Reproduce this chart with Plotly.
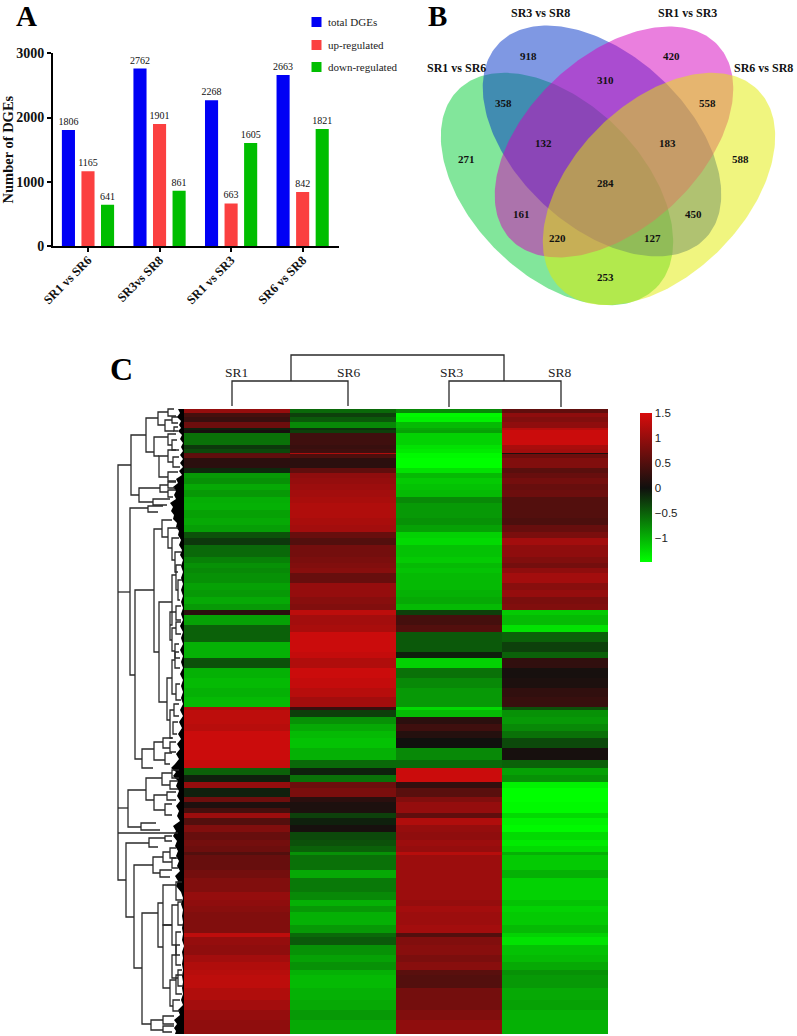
import math
import plotly.graph_objects as go

W, H = 797, 1036
SERIF = "Liberation Serif"

# ---------- Panel A ----------
comparisons = ["SR1 vs SR6", "SR3vs SR8", "SR1 vs SR3", "SR6 vs SR8"]
total_dges = [1806, 2762, 2268, 2663]
up_regulated = [1165, 1901, 663, 842]
down_regulated = [641, 861, 1605, 1821]
bar_colors = ["#0000F5", "#FB4040", "#00BE00"]
bar_names = ["total DGEs", "up-regulated", "down-regulated"]

# ---------- Panel B ----------
venn_sets = ["SR1 vs SR6", "SR3 vs SR8", "SR1 vs SR3", "SR6 vs SR8"]
venn_cx = [557, 602, 614, 659]
venn_cy = [189, 141, 142, 189]
venn_a = [140, 142, 142, 140]
venn_b = [86, 86, 86, 86]
venn_angle = [45, 43, -43, -45]
venn_fill = ["rgba(5,205,55,0.5)", "rgba(0,50,200,0.5)", "rgba(214,0,190,0.5)", "rgba(225,235,0,0.5)"]
venn_counts = [918, 420, 358, 310, 558, 271, 132, 183, 588, 284, 161, 450, 220, 127, 253]
venn_count_x = [528, 671, 503, 605, 707, 466, 543, 667, 740, 605, 521, 693, 557, 652, 605]
venn_count_y = [56, 56, 103, 80, 103, 159, 143, 143, 159, 183, 214, 214, 238, 238, 277]
venn_label_x = [456, 540, 687, 763]
venn_label_y = [68, 13, 13, 68]

# ---------- Panel C ----------
samples = ["SR1", "SR6", "SR3", "SR8"]
row_edges = [0, 4, 8, 13, 19, 21, 24, 36, 40, 44, 45, 49, 59, 64, 69, 75, 81, 88, 94, 101, 109, 116, 123, 129, 136,
             148, 154, 159, 164, 174, 181, 188, 195, 201, 206, 216, 223, 233, 243, 249, 259, 269, 279, 288, 298, 301,
             308, 315, 322, 329, 339, 351, 359, 366, 373, 379, 388, 393, 399, 404, 409, 416, 423, 431, 437, 443, 446,
             461, 469, 483, 491, 497, 503, 516, 524, 528, 536, 546, 553, 561, 566, 579, 591, 601, 611, 625]
sr1_values = [1.0, .4, .3, .7, -.1, .05, -.6, -.25, -.35, .55, .6, .2, -.15, -.85, -.8, -.95, -.85, -.98, -1.0,
              -.9, -.95, -.88, -.4, -.25, -.55, -.7, -.8, -.75, -.8, -.9, -.85, -.95, -.85, .2, -.9, -.5, -.5,
              -1.0, -1.0, -.4, -1.0, -1.05, -1.0, -1.05, 1.2, 1.3, 1.3, 1.25, 1.4, 1.4, 1.4, 1.35, -.5, -.1, 1.0,
              -.1, .7, .1, .4, 1.05, .5, .85, .65, .75, .7, .5, .65, .75, .85, 1.0, .95, .9, .85, .85, 1.3, 1.0,
              .95, 1.1, 1.2, 1.25, 1.3, 1.2, 1.1, 1.0, .95]
sr6_values = [-.55, -.3, -.45, -.75, -.2, -.3, .35, .3, .35, 1.2, .45, .2, .6, .95, 1.0, 1.05, 1.1, 1.15, 1.2,
              1.2, 1.15, 1.1, .65, .5, .75, .8, .85, .9, .65, 1.0, 1.0, .9, .85, 1.3, 1.1, 1.15, 1.4, 1.4, 1.35,
              1.2, 1.4, 1.35, 1.25, 1.1, .3, -.3, -.8, -.95, -1.05, -1.1, -1.0, -.55, -.1, -.6, .7, .8, .2, .1, .1,
              -.3, -.1, .05, -.35, -.4, -.5, -.8, -.6, -.95, -.65, -.75, -1.0, -.85, -1.0, -.85, -.55, -.45, -.8,
              -.9, -.8, -1.0, -1.05, -1.0, -.95, -.85, -.95]
sr3_values = [-.75, -1.45, -1.4, -1.05, -.95, -.9, -1.2, -1.3, -1.35, -1.45, -1.45, -1.48, -1.3, -1.05, -1.15,
              -1.1, -1.05, -.75, -.85, -.85, -.8, -.9, -1.2, -1.25, -1.1, -1.15, -1.05, -1.1, -1.05, -1.05, -1.0,
              -.95, -1.05, -.3, .4, .5, -.45, -.45, -.1, -1.2, -.6, -.75, -.85, -.85, -1.25, -1.05, .2, .35, .15,
              .0, -.75, -.55, 1.4, 1.4, .25, .55, .85, 1.0, 1.0, .6, 1.2, 1.0, .95, 1.05, 1.0, 1.25, 1.05, 1.05,
              1.05, 1.05, 1.0, 1.1, 1.05, 1.1, .5, .85, .9, .8, .9, .55, .5, .75, .75, .85, .95]
sr8_values = [.6, .95, .85, .95, 1.25, 1.4, 1.4, 1.15, 1.1, .1, .7, .85, .55, .65, .75, .65, .7, .5, .5, .5, .45,
              .65, .8, 1.1, .95, .85, .75, .95, 1.1, .9, 1.0, .8, .85, -1.15, -1.05, -1.3, -.5, -.3, -.5, .25, .05,
              .1, .25, .3, -.4, -.8, -.85, -.75, -.6, -.35, .05, -.5, -.9, -.8, -1.4, -1.48, -1.48, -1.45, -1.45,
              -1.25, -1.4, -1.45, -1.25, -1.35, -1.25, -1.0, -1.15, -1.0, -1.2, -1.2, -1.1, -1.2, -1.15, -1.05,
              -1.2, -1.3, -1.1, -1.05, -.95, -.8, -.85, -.95, -.9, -1.0, -1.0]
assert all(len(v) == len(row_edges) - 1 for v in [sr1_values, sr6_values, sr3_values, sr8_values])
colorbar_ticks = [1.5, 1, 0.5, 0, -0.5, -1]
colorbar_text = ["1.5", "1", "0.5", "0", "\u22120.5", "\u22121"]
z_min, z_max = -1.48, 1.5

# Sample dendrogram brackets: left x, right x, top y, bottom y
sample_brackets = [(232, 348, 381, 406), (449, 561, 381, 407), (291, 504, 355, 381)]
sample_label_x = [236, 349, 452, 560]

# Gene dendrogram brackets: vertical x, top y, bottom y, x reached by the top arm, by the bottom arm
gene_brackets = [
    (118, 465, 880, 131, 126), (131, 435, 495, 146, 139), (146, 418, 452, 158, 154),
    (158, 412, 425, 168, 165), (168, 409, 416, 174, 176), (165, 420, 431, 172, 174),
    (172, 417, 423, 178, 178), (174, 427, 431, 178, 178),
    (154, 437, 456, 168, 159), (168, 434, 445, 176, 172), (172, 440, 450, 177, 179),
    (159, 456, 477, 168, 168), (168, 450, 462, 176, 173), (173, 457, 467, 179, 180),
    (168, 472, 481, 178, 176), (139, 488, 502, 160, 153), (160, 485, 492, 168, 168),
    (168, 482, 488, 176, 175), (168, 490, 497, 176, 173), (153, 499, 505, 170, 167),
    (130, 508, 675, 148, 135), (148, 506, 512, 163, 158), (135, 590, 759, 154, 142),
    (154, 529, 652, 162, 159), (162, 520, 537, 172, 168), (168, 528, 548, 178, 172),
    (172, 538, 560, 179, 175), (175, 552, 572, 181, 178), (159, 602, 702, 172, 167),
    (172, 575, 625, 176, 170), (176, 565, 590, 181, 178), (178, 580, 600, 182, 180),
    (170, 612, 640, 176, 172), (176, 606, 620, 181, 181), (172, 628, 651, 176, 175),
    (176, 622, 634, 181, 181), (175, 644, 658, 179, 180), (167, 678, 720, 172, 170),
    (172, 660, 694, 175, 176), (175, 652, 668, 179, 180), (176, 684, 700, 180, 181),
    (170, 710, 738, 174, 173), (174, 704, 716, 179, 179), (173, 722, 734, 178, 177),
    (142, 749, 768, 154, 153), (154, 742, 760, 163, 165), (163, 738, 748, 172, 170),
    (165, 753, 764, 172, 170), (170, 742, 752, 176, 176), (128, 790, 827, 146, 141),
    (146, 778, 800, 162, 154), (162, 773, 785, 172, 170), (172, 770, 778, 179, 179),
    (170, 781, 789, 178, 178), (154, 795, 810, 167, 165), (167, 792, 800, 176, 176),
    (165, 804, 815, 172, 172), (141, 823, 830, 156, 160), (126, 843, 917, 149, 134),
    (149, 838, 847, 165, 158), (165, 836, 841, 172, 172), (134, 865, 968, 153, 142),
    (153, 857, 873, 163, 160), (163, 852, 862, 170, 172), (170, 848, 858, 176, 176),
    (172, 858, 868, 178, 178), (160, 870, 877, 172, 170), (142, 913, 1024, 158, 151),
    (158, 903, 947, 163, 163), (163, 885, 925, 176, 172), (176, 882, 900, 182, 182),
    (172, 905, 945, 178, 176), (178, 902, 925, 182, 183), (176, 932, 955, 181, 180),
    (163, 925, 988, 172, 170), (172, 955, 978, 176, 178), (176, 945, 965, 180, 181),
    (178, 970, 986, 182, 183), (170, 980, 1006, 176, 173), (176, 975, 994, 182, 182),
    (173, 1000, 1011, 180, 180), (151, 1020, 1030, 163, 163), (163, 1016, 1024, 174, 174),
    (163, 1026, 1032, 174, 172),
]
gene_extra_arms = [(592, 118, 130), (808, 118, 128), (833, 118, 178)]
leaf_edge_y = [409, 413, 417, 421, 425, 428, 431, 435, 439, 443, 447, 451, 455, 459, 463, 467, 471, 475, 479, 483,
               487, 491, 495, 499, 503, 507, 511, 515, 519, 523, 527, 531, 535, 540, 545, 550, 555, 560, 566, 572,
               578, 584, 590, 596, 602, 608, 614, 620, 626, 632, 638, 644, 650, 656, 662, 668, 674, 680, 686, 692,
               698, 704, 710, 716, 722, 728, 734, 739, 744, 749, 754, 759, 764, 768, 772, 776, 781, 786, 791, 796,
               801, 806, 811, 816, 821, 826, 831, 836, 841, 846, 851, 856, 861, 866, 871, 876, 881, 886, 892, 898,
               904, 910, 916, 922, 928, 934, 940, 946, 952, 958, 964, 970, 976, 982, 988, 994, 1000, 1005, 1010,
               1015, 1020, 1024, 1028, 1031, 1034]
leaf_edge_x = [178, 180, 177, 181, 179, 181, 178, 182, 180, 183, 181, 183, 180, 183, 180, 183, 179, 182, 176, 178,
               173, 176, 174, 176, 170, 173, 171, 174, 173, 177, 176, 179, 178, 181, 179, 182, 180, 183, 181, 183,
               181, 183, 181, 183, 181, 183, 181, 183, 180, 183, 181, 183, 180, 183, 181, 183, 180, 183, 181, 183,
               181, 183, 180, 183, 179, 182, 178, 181, 177, 180, 176, 179, 175, 171, 176, 173, 178, 176, 179, 177,
               180, 176, 179, 177, 180, 173, 176, 173, 177, 175, 178, 176, 179, 177, 180, 175, 178, 176, 181, 183,
               181, 183, 182, 183, 182, 183, 182, 184, 182, 183, 182, 183, 182, 183, 182, 183, 181, 183, 178, 180,
               174, 177, 174, 176, 175]


def bracket_path(brackets):
    xs, ys = [], []
    for x, top, bottom, x_top, x_bottom in brackets:
        xs += [x_top, x, x, x_bottom, None]
        ys += [top, top, bottom, bottom, None]
    return xs, ys


def ellipse(cx, cy, a, b, angle):
    th = math.radians(angle)
    xs, ys = [], []
    for i in range(241):
        t = 2 * math.pi * i / 240
        u, v = a * math.cos(t), b * math.sin(t)
        xs.append(cx + u * math.cos(th) - v * math.sin(th))
        ys.append(cy + u * math.sin(th) + v * math.cos(th))
    return xs, ys


fig = go.Figure()

# bars
for name, vals, col in zip(bar_names, [total_dges, up_regulated, down_regulated], bar_colors):
    fig.add_trace(go.Bar(x=comparisons, y=vals, name=name, marker=dict(color=col, line=dict(width=0)),
                         text=vals, textposition="outside", cliponaxis=False, constraintext="none",
                         textfont=dict(family=SERIF, size=10, color="#111"), showlegend=False,
                         xaxis="x", yaxis="y"))

# heatmap
fig.add_trace(go.Heatmap(
    z=[list(r) for r in zip(sr1_values, sr6_values, sr3_values, sr8_values)],
    x=[0, 1, 2, 3, 4], y=row_edges, zmin=z_min, zmax=z_max, xaxis="x2", yaxis="y2",
    colorscale=[[0, "rgb(0,255,0)"], [0.4966, "rgb(16,16,14)"], [1, "rgb(216,12,12)"]],
    colorbar=dict(thickness=12, thicknessmode="pixels", len=149, lenmode="pixels",
                  x=640 / W, xanchor="left", xpad=0, y=(H - 413) / H, yanchor="top", ypad=0,
                  outlinewidth=0, ticks="", tickvals=colorbar_ticks, ticktext=colorbar_text,
                  tickfont=dict(family="Liberation Sans", size=11.5, color="#222")),
))

# overlay in page units: Venn, dendrograms, text
for i in range(4):
    ex, ey = ellipse(venn_cx[i], venn_cy[i], venn_a[i], venn_b[i], venn_angle[i])
    fig.add_trace(go.Scatter(x=ex, y=ey, mode="lines", fill="toself", fillcolor=venn_fill[i],
                             line=dict(width=0), name=venn_sets[i], showlegend=False,
                             hoverinfo="name", xaxis="x3", yaxis="y3"))

sx, sy = [], []
for left, right, top, bottom in sample_brackets:
    sx += [left, left, right, right, None]
    sy += [bottom, top, top, bottom, None]
fig.add_trace(go.Scatter(x=sx, y=sy, mode="lines", line=dict(color="#2a2a2a", width=1.3),
                         showlegend=False, hoverinfo="skip", xaxis="x3", yaxis="y3"))

leaf_points = list(zip(leaf_edge_x, leaf_edge_y))
fig.add_trace(go.Scatter(x=[p[0] for p in leaf_points] + [184, 184], y=[p[1] for p in leaf_points] + [1034, 409],
                         mode="lines", fill="toself", fillcolor="black", line=dict(width=0), showlegend=False,
                         hoverinfo="skip", xaxis="x3", yaxis="y3"))
gx, gy = bracket_path(gene_brackets)
for y, x0, x1 in gene_extra_arms:
    gx += [x0, x1, None]
    gy += [y, y, None]
fig.add_trace(go.Scatter(x=gx, y=gy, mode="lines", line=dict(color="#2a2a2a", width=1.3),
                         showlegend=False, hoverinfo="skip", xaxis="x3", yaxis="y3"))

# legend of panel A
for name, col, y in zip(bar_names, bar_colors, [22, 45, 67]):
    fig.add_trace(go.Scatter(x=[316.5], y=[y], mode="markers", marker=dict(symbol="square", size=10, color=col),
                             showlegend=False, hoverinfo="skip", xaxis="x3", yaxis="y3"))

annotations = []


def label(x, y, text, size, bold=False, family=SERIF, color="#111", xanchor="center", angle=0):
    annotations.append(dict(x=x, y=y, xref="x3", yref="y3", text=f"<b>{text}</b>" if bold else text,
                            showarrow=False, xanchor=xanchor, yanchor="middle", textangle=angle,
                            font=dict(family=family, size=size, color=color)))


for name, y in zip(bar_names, [22, 45, 67]):
    label(326, y, name, 11, xanchor="left", color="#222")
label(26, 16, "A", 29, True, color="black")
label(437, 16, "B", 29, True, color="black")
label(121, 369, "C", 32, True, color="black")
for x, y, n in zip(venn_count_x, venn_count_y, venn_counts):
    label(x, y, str(n), 11, True)
for x, y, n in zip(venn_label_x, venn_label_y, venn_sets):
    label(x, y, n, 12, True)
for x, n in zip(sample_label_x, samples):
    label(x, 372.5, n, 13.5, color="#222")

fig.update_layout(
    width=W, height=H, autosize=False, margin=dict(l=0, r=0, t=0, b=0, autoexpand=False),
    paper_bgcolor="white", plot_bgcolor="rgba(0,0,0,0)", barmode="group", bargap=0.18, bargroupgap=0.33,
    annotations=annotations,
    xaxis=dict(domain=[53 / W, 339 / W], range=[-0.489, 3.508], type="category", anchor="y",
               showline=True, linecolor="black", linewidth=2, ticks="outside", ticklen=4, tickwidth=2,
               tickcolor="black", tickangle=-45, showgrid=False, ticklabelstandoff=-4,
               tickfont=dict(family=SERIF, size=12.5, color="#111", weight="bold")),
    yaxis=dict(domain=[(H - 246) / H, (H - 53.3) / H], range=[0, 3000], anchor="x",
               tickvals=[0, 1000, 2000, 3000], showline=True, linecolor="black", linewidth=2,
               ticks="outside", ticklen=4, tickwidth=2, tickcolor="black", showgrid=False, zeroline=False,
               tickfont=dict(family=SERIF, size=14, color="#111", weight="bold"),
               title=dict(text="<b>Number of DGEs</b>", standoff=9,
                          font=dict(family=SERIF, size=14.5, color="#111"))),
    xaxis2=dict(domain=[184 / W, 608 / W], range=[0, 4], anchor="y2", visible=False),
    yaxis2=dict(domain=[(H - 1034) / H, (H - 409) / H], range=[625, 0], anchor="x2", visible=False),
    xaxis3=dict(domain=[0, 1], range=[0, W], anchor="y3", visible=False),
    yaxis3=dict(domain=[0, 1], range=[H, 0], anchor="x3", visible=False),
)
fig.write_html("out.html", config={"displayModeBar": False},
               post_script="document.body.style.margin='0';document.body.style.overflow='hidden';")
